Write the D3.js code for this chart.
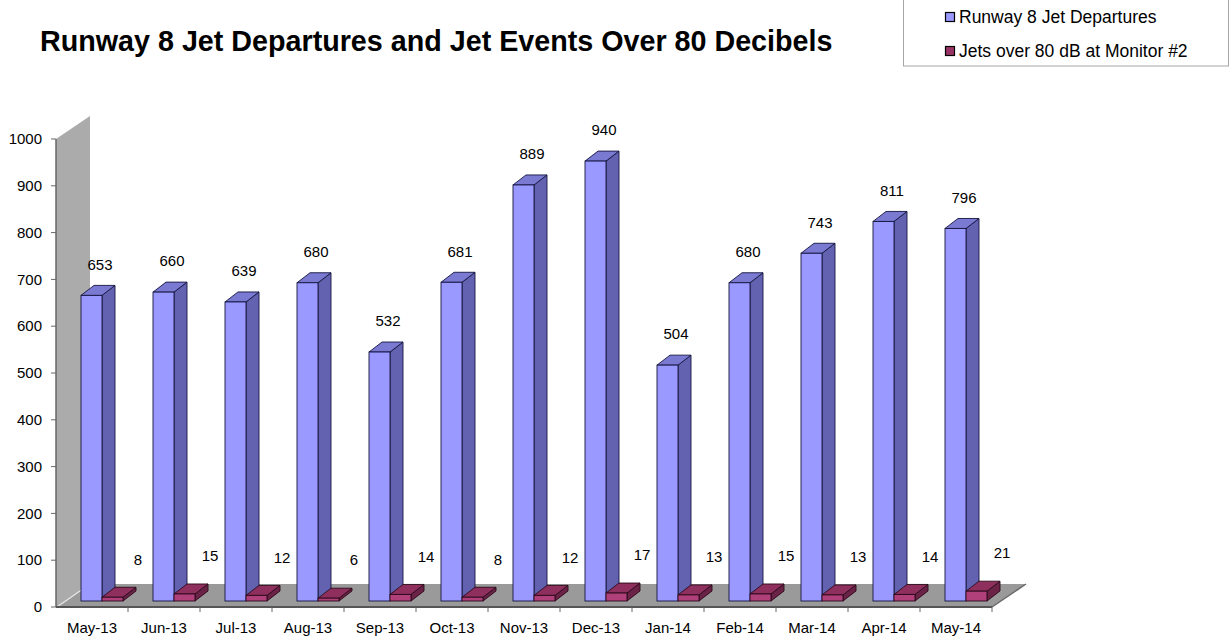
<!DOCTYPE html>
<html>
<head>
<meta charset="utf-8">
<script src="https://cdn.jsdelivr.net/npm/d3@7"></script>
<style>
  body { margin: 0; background: #fff; }
  svg { display: block; font-family: "Liberation Sans", Arial, sans-serif; }
</style>
</head>
<body>
<svg id="chart" width="1232" height="641"></svg>
<script>
// Monthly counts
const months = ["May-13","Jun-13","Jul-13","Aug-13","Sep-13","Oct-13","Nov-13",
                "Dec-13","Jan-14","Feb-14","Mar-14","Apr-14","May-14"];
const departures = [653, 660, 639, 680, 532, 681, 889, 940, 504, 680, 743, 811, 796];
const loudJets   = [8, 15, 12, 6, 14, 8, 12, 17, 13, 15, 13, 14, 21];
const yTicks = [0, 100, 200, 300, 400, 500, 600, 700, 800, 900, 1000];
const seriesNames = ["Runway 8 Jet Departures", "Jets over 80 dB at Monitor #2"];
const titleText = "Runway 8 Jet Departures and Jet Events Over 80 Decibels";

const svg = d3.select("#chart");

// Oblique 3D box: front plane scales plus a depth offset
const x = d3.scaleBand().domain(months).range([56, 992]).paddingInner(0).paddingOuter(0);
const y = d3.scaleLinear().domain([0, 1000]).range([607, 139]);
const depth = { dx: 34, dy: -23 };     // wall / floor depth
const barDepth = { dx: 13, dy: -10 };  // depth of each column
const barInset = 6;                     // columns stand slightly behind the front edge
const barW = 21;

const styles = [
  { front: "#9999ff", top: "#7a7ad2", side: "#6262b0", stroke: "#14143f", swatch: "#9999ff", offset: 25 },
  { front: "#b0407a", top: "#8e2f5e", side: "#6a2347", stroke: "#2b0a1a", swatch: "#993366", offset: 46 }
];

const x0 = x.range()[0], x1 = x.range()[1];
const yb = y(0), yt = y(1000);

// Side wall
svg.append("polygon")
  .attr("points", [[x0, yb], [x0, yt], [x0 + depth.dx, yt + depth.dy], [x0 + depth.dx, yb + depth.dy]].join(" "))
  .attr("fill", "#ababab");

// Floor
svg.append("polygon")
  .attr("points", [[x0, yb], [x1, yb], [x1 + depth.dx, yb + depth.dy], [x0 + depth.dx, yb + depth.dy]].join(" "))
  .attr("fill", "#9a9a9a");
svg.append("line")
  .attr("x1", x0 + 1).attr("y1", yb).attr("x2", x0 + depth.dx).attr("y2", yb + depth.dy)
  .attr("stroke", "#e6e6e6").attr("stroke-width", 1.2);
svg.append("line")
  .attr("x1", x1).attr("y1", yb).attr("x2", x1 + depth.dx).attr("y2", yb + depth.dy)
  .attr("stroke", "#6a6a6a").attr("stroke-width", 1.5);

// Value axis
svg.append("line")
  .attr("x1", x0).attr("y1", yt).attr("x2", x0).attr("y2", yb)
  .attr("stroke", "#666").attr("stroke-width", 1.5);
const yt_g = svg.append("g");
yTicks.forEach(t => {
  yt_g.append("line").attr("x1", x0 - 5).attr("x2", x0).attr("y1", y(t)).attr("y2", y(t))
    .attr("stroke", "#666").attr("stroke-width", 1);
  yt_g.append("text").attr("x", x0 - 14).attr("y", y(t)).attr("dy", "0.35em")
    .attr("text-anchor", "end").attr("font-size", 15).attr("fill", "#000").text(t);
});

// Category axis
svg.append("line")
  .attr("x1", x0).attr("y1", yb).attr("x2", x1).attr("y2", yb)
  .attr("stroke", "#555").attr("stroke-width", 2);
const catG = svg.append("g");
months.forEach((m, i) => {
  const bx = x(m);
  if (i > 0) catG.append("line").attr("x1", bx).attr("x2", bx).attr("y1", yb).attr("y2", yb + 5)
    .attr("stroke", "#666").attr("stroke-width", 1);
  catG.append("text").attr("x", bx + x.bandwidth() / 2).attr("y", yb + 21)
    .attr("dy", "0.35em").attr("text-anchor", "middle").attr("font-size", 15).text(m);
});
catG.append("line").attr("x1", x1).attr("x2", x1).attr("y1", yb).attr("y2", yb + 5)
  .attr("stroke", "#666").attr("stroke-width", 1);

// 3D columns
function column(g, left, v, st) {
  const bottom = y(0) - barInset;
  const top = y(v) - barInset;
  const right = left + barW;
  const { dx, dy } = barDepth;
  g.append("polygon")
    .attr("points", [[right, top], [right + dx, top + dy], [right + dx, bottom + dy], [right, bottom]].join(" "))
    .attr("fill", st.side).attr("stroke", st.stroke).attr("stroke-width", 0.9).attr("stroke-linejoin", "round");
  g.append("polygon")
    .attr("points", [[left, top], [right, top], [right + dx, top + dy], [left + dx, top + dy]].join(" "))
    .attr("fill", st.top).attr("stroke", st.stroke).attr("stroke-width", 0.9).attr("stroke-linejoin", "round");
  g.append("rect")
    .attr("x", left).attr("y", top).attr("width", barW).attr("height", bottom - top)
    .attr("fill", st.front).attr("stroke", st.stroke).attr("stroke-width", 0.9);
  return top;
}

const barsG = svg.append("g");
const labelsG = svg.append("g");
months.forEach((m, i) => {
  const bx = x(m);
  const topA = column(barsG, bx + styles[0].offset, departures[i], styles[0]);
  const topB = column(barsG, bx + styles[1].offset, loudJets[i], styles[1]);
  labelsG.append("text")
    .attr("x", bx + styles[0].offset + (barW + barDepth.dx) / 2 + 2)
    .attr("y", topA - 31).attr("dy", "0.35em")
    .attr("text-anchor", "middle").attr("font-size", 15).text(departures[i]);
  labelsG.append("text")
    .attr("x", bx + 82)
    .attr("y", topB - 38).attr("dy", "0.35em")
    .attr("text-anchor", "middle").attr("font-size", 15).text(loudJets[i]);
});

// Title
svg.append("text")
  .attr("x", 40).attr("y", 51)
  .attr("font-size", 28.7).attr("font-weight", "bold").attr("fill", "#000")
  .text(titleText);

// Legend
const lg = svg.append("g");
lg.append("rect").attr("x", 903.5).attr("y", -0.5).attr("width", 325).attr("height", 66.5)
  .attr("fill", "#fff").attr("stroke", "#a6a6a6").attr("stroke-width", 1);
seriesNames.forEach((name, i) => {
  const cy = 17 + i * 34;
  lg.append("rect").attr("x", 945.5).attr("y", cy - 4.5).attr("width", 9).attr("height", 9)
    .attr("fill", styles[i].swatch).attr("stroke", "#000").attr("stroke-width", 1.2);
  lg.append("text").attr("x", 959).attr("y", cy).attr("dy", "0.36em")
    .attr("font-size", 17.5).text(name);
});
</script>
</body>
</html>
